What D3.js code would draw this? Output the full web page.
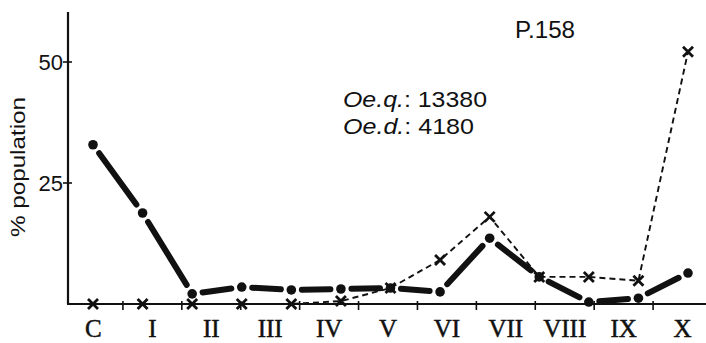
<!DOCTYPE html>
<html>
<head>
<meta charset="utf-8">
<script src="https://cdn.jsdelivr.net/npm/d3@7"></script>
<style>
  html, body { margin: 0; padding: 0; background: #fff; }
  svg { display: block; }
</style>
</head>
<body>
<svg id="chart" width="706" height="343"></svg>
<script>
// Zone labels along the horizontal axis
const zones = ["C", "I", "II", "III", "IV", "V", "VI", "VII", "VIII", "IX", "X"];
// Sampling stations (evenly spaced along the transect)
const stations = d3.range(13);
// % population, Oe.q. (thick line, dots)
const oeq = [32.9, 18.8, 2.1, 3.5, 2.9, 3.1, 3.3, 2.5, 13.6, 5.6, 0.4, 1.2, 6.4];
// % population, Oe.d. (dashed line, crosses)
const oed = [0, 0, 0, 0, 0, 0.6, 3.3, 9.1, 18.0, 5.6, 5.6, 4.8, 52.1];
// Vertical axis ticks
const yTicks = [25, 50];
// Annotations
const plotTitle = "P.158";
const totals = [
  { name: "Oe.q.", count: 13380, width: 144 },
  { name: "Oe.d.", count: 4180, width: 131 }
];

const svg = d3.select("#chart");
const ink = "#111";

const y = d3.scaleLinear().domain([0, 50]).range([304, 62]);
const xZone = d3.scaleBand().domain(zones).range([64, 712]);
const xSt = d3.scaleLinear().domain([0, stations.length - 1]).range([93, 688]);

// Axes
svg.append("line")
  .attr("x1", 68).attr("x2", 68).attr("y1", 12).attr("y2", y(0))
  .attr("stroke", ink).attr("stroke-width", 2.2);
svg.append("line")
  .attr("x1", 67).attr("x2", 706).attr("y1", y(0)).attr("y2", y(0))
  .attr("stroke", ink).attr("stroke-width", 2);

// y ticks
svg.selectAll(".ytick").data(yTicks).join("line")
  .attr("x1", 63).attr("x2", 72)
  .attr("y1", d => y(d)).attr("y2", d => y(d))
  .attr("stroke", ink).attr("stroke-width", 1.6);
svg.selectAll(".ylab").data(yTicks).join("text")
  .attr("x", 63).attr("y", d => y(d) + 8)
  .attr("text-anchor", "end")
  .attr("font-family", "Liberation Sans, Arial, sans-serif")
  .attr("font-size", 22)
  .attr("fill", ink)
  .text(d => d);

// x ticks on zone boundaries
svg.selectAll(".xtick").data(zones.slice(1)).join("line")
  .attr("x1", d => xZone(d)).attr("x2", d => xZone(d))
  .attr("y1", y(0) - 3).attr("y2", y(0) + 6)
  .attr("stroke", ink).attr("stroke-width", 1.6);

// zone labels
svg.selectAll(".xlab").data(zones).join("text")
  .attr("x", d => xZone(d) + xZone.bandwidth() / 2)
  .attr("y", 337)
  .attr("text-anchor", "middle")
  .attr("font-family", "Liberation Serif, Times New Roman, serif")
  .attr("font-size", 25)
  .attr("stroke", ink)
  .attr("stroke-width", 0.5)
  .attr("fill", ink)
  .text(d => d);

// y axis title
svg.append("text")
  .attr("transform", "translate(25,167) rotate(-90)")
  .attr("text-anchor", "middle")
  .attr("font-family", "Liberation Sans, Arial, sans-serif")
  .attr("font-size", 20)
  .attr("textLength", 140)
  .attr("lengthAdjust", "spacingAndGlyphs")
  .attr("fill", ink)
  .text("% population");

// Oe.d. dashed line with crosses
const lineD = d3.line().x((d, i) => xSt(i)).y(d => y(d));
svg.append("path")
  .attr("d", lineD(oed))
  .attr("fill", "none")
  .attr("stroke", ink)
  .attr("stroke-width", 1.9)
  .attr("stroke-dasharray", "6,4");
const cross = svg.selectAll(".cross").data(oed).join("g")
  .attr("transform", (d, i) => `translate(${xSt(i)},${y(d)})`);
cross.append("path")
  .attr("d", "M-5,-5L5,5M-5,5L5,-5")
  .attr("stroke", ink).attr("stroke-width", 2.8)
  .attr("fill", "none");

// Oe.q. heavy line: segments broken short of each dot
const gap = 10.5;
const segs = d3.pairs(oeq.map((v, i) => [xSt(i), y(v)]));
svg.selectAll(".seg").data(segs).join("line")
  .each(function ([a, b]) {
    const dx = b[0] - a[0], dy = b[1] - a[1];
    const len = Math.hypot(dx, dy);
    const ux = dx / len, uy = dy / len;
    d3.select(this)
      .attr("x1", a[0] + ux * gap).attr("y1", a[1] + uy * gap)
      .attr("x2", b[0] - ux * gap).attr("y2", b[1] - uy * gap);
  })
  .attr("stroke", ink)
  .attr("stroke-width", 6)
  .attr("stroke-linecap", "round");
svg.selectAll(".dot").data(oeq).join("circle")
  .attr("cx", (d, i) => xSt(i))
  .attr("cy", d => y(d))
  .attr("r", 4.8)
  .attr("fill", ink);

// Title and totals
svg.append("text")
  .attr("x", 515).attr("y", 38)
  .attr("font-family", "Liberation Sans, Arial, sans-serif")
  .attr("font-size", 23)
  .attr("textLength", 60)
  .attr("lengthAdjust", "spacingAndGlyphs")
  .attr("fill", ink)
  .text(plotTitle);

const tl = svg.selectAll(".total").data(totals).join("text")
  .attr("x", 343)
  .attr("y", (d, i) => 106.5 + i * 27.5)
  .attr("font-family", "Liberation Sans, Arial, sans-serif")
  .attr("font-size", 22)
  .attr("textLength", d => d.width)
  .attr("lengthAdjust", "spacingAndGlyphs")
  .attr("fill", ink);
tl.append("tspan").attr("font-style", "italic").text(d => d.name);
tl.append("tspan").text(d => ": " + d.count);
</script>
</body>
</html>
